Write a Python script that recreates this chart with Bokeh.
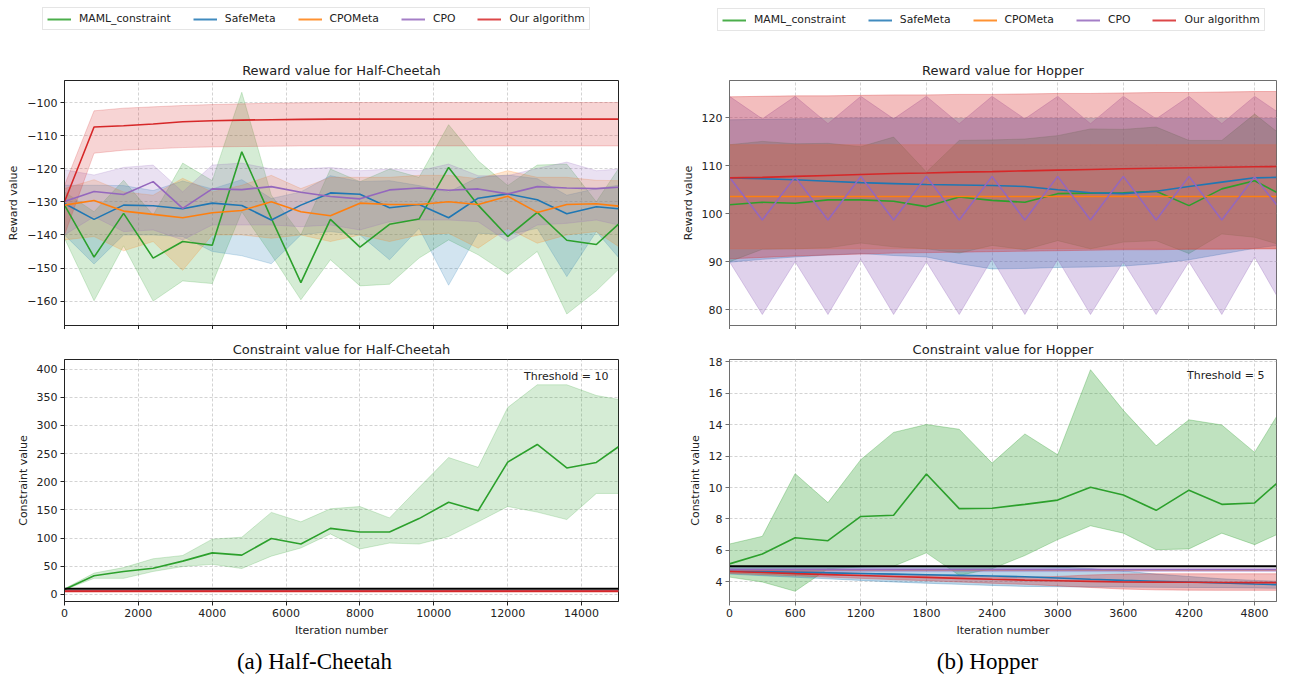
from bokeh.plotting import figure
from bokeh.models import Range1d, FixedTicker, Legend, LegendItem, Label, Title
from bokeh.layouts import column, row
from bokeh.embed import file_html
from bokeh.resources import INLINE

FONT = "DejaVu Sans"
SERIES = ["MAML_constraint", "SafeMeta", "CPOMeta", "CPO", "Our algorithm"]
COLORS = ["#2ca02c", "#1f77b4", "#ff7f0e", "#9467bd", "#d62728"]

# ---------------- Half-Cheetah ----------------
HC_X = [0, 800, 1600, 2400, 3200, 4000, 4800, 5600, 6400, 7200, 8000, 8800,
        9600, 10400, 11200, 12000, 12800, 13600, 14400, 15000]

HC_R_MAML = [-131, -146.7, -133.5, -147.0, -142.0, -143.1, -114.9, -135, -154.4, -135.3,
             -143.7, -136.8, -135.2, -119.6, -131.0, -140.5, -133.2, -141.6, -142.9, -136.7]
HC_R_MAML_HI = [-127, -133, -123.5, -134, -118.3, -123.6, -96.9, -128, -140, -120.1,
                -123.9, -120.1, -122.6, -106.7, -117.6, -125.1, -118.9, -118.6, -130, -120]
HC_R_MAML_LO = [-141, -159.9, -143.3, -160, -153.9, -154.7, -133, -146, -159.6, -147.5,
                -155.4, -154.9, -147, -141.5, -146, -151.9, -145, -163.9, -156.9, -150.4]

HC_R_SAFE = [-130.5, -135.3, -131.0, -131.2, -132.1, -130.4, -131.1, -135.5, -131.0, -127.3,
             -127.7, -131.8, -130.8, -134.8, -128.9, -127.6, -129.4, -133.6, -131.5, -132.1]
HC_R_SAFE_HI = [-125, -125, -125.1, -126.6, -123.7, -126.1, -123.3, -129, -127, -122.1,
                -123.9, -123.6, -125.1, -127, -122.6, -121.9, -123, -128, -126, -125]
HC_R_SAFE_LO = [-140, -148.8, -140, -140, -140.5, -145, -146.3, -148.7, -140, -139,
                -140, -147.5, -138, -155.2, -139.5, -140, -138, -152.6, -139, -146.8]

HC_R_CPOM = [-131.0, -129.6, -132.8, -133.8, -134.8, -133.3, -132.6, -130.0, -133.0, -134.2,
             -130.4, -130.8, -130.8, -130.0, -130.8, -128.3, -133.2, -130.8, -130.6, -131.3]
HC_R_CPOM_HI = [-126, -123.3, -127, -128, -122.9, -127, -125, -122, -126, -122.6,
                -122.6, -122.6, -122, -122, -123, -120.6, -122.6, -122.6, -123.5, -123.6]
HC_R_CPOM_LO = [-141.5, -140.5, -144.8, -142, -150.7, -140, -140, -141, -140, -142,
                -140, -142, -140, -139.5, -144, -138, -142.5, -140, -139, -143.5]

HC_R_CPO = [-129.9, -126.9, -127.8, -123.9, -132.0, -126.1, -126.3, -125.4, -127.1, -128.4,
            -129.1, -126.4, -125.8, -126.5, -126.1, -127.6, -125.4, -125.8, -126.0, -125.6]
HC_R_CPO_HI = [-120.3, -121.9, -119.6, -118.9, -127, -118.9, -118.3, -120.1, -120.1, -119.6,
               -120.6, -120.1, -120.6, -118.6, -122.1, -122.1, -119.9, -118, -120.6, -120.1]
HC_R_CPO_LO = [-140, -134.5, -139, -138.5, -141.5, -137, -137, -137, -137.5, -137,
               -138.5, -136, -135.5, -135.5, -136, -142, -137, -136.5, -135.5, -137]

HC_R_OURS = [-130, -107.4, -107.0, -106.5, -105.8, -105.5, -105.3, -105.2, -105.1, -105.0,
             -105.0, -105.0, -105.0, -105.0, -105.0, -105.0, -105.0, -105.0, -105.0, -105.0]
HC_R_OURS_HI = [-125, -102.5, -101.7, -101.3, -100.9, -100.6, -100.4, -100.2, -100.1, -100.0,
                -100.0, -100.0, -100.0, -100.0, -100.0, -100.0, -100.0, -100.0, -100.0, -100.0]
HC_R_OURS_LO = [-140, -115.3, -114.4, -114.0, -113.6, -113.4, -113.3, -113.2, -113.1, -113.1,
                -113.1, -113.1, -113.1, -113.1, -113.1, -113.1, -113.1, -113.1, -113.1, -113.1]

HC_C_MAML = [8.7, 33, 40.6, 46.4, 59, 73.6, 69.6, 99.1, 89.3, 117.1,
             110.7, 110.7, 134.5, 163.5, 148.4, 234.8, 266.1, 224.3, 234.2, 262.0]
HC_C_MAML_HI = [10, 37.7, 47.5, 63.2, 69, 98, 101.4, 145.5, 128.7, 151.9,
                155.9, 135.7, 189.6, 242.9, 225.5, 331.6, 372, 372, 353, 346]
HC_C_MAML_LO = [8, 28.4, 28.4, 40.6, 49.3, 53.3, 45.8, 67.8, 82.3, 107.2,
                80.6, 91, 89.3, 102.6, 128.7, 155.9, 146, 132.8, 179.1, 179.1]
HC_C_OTHERS = [6.0] * 20
HC_C_OURS = [5.5] * 20
HC_THRESHOLD = 10

# ---------------- Hopper ----------------
HOP_X = [0, 300, 600, 900, 1200, 1500, 1800, 2100, 2400, 2700, 3000, 3300,
         3600, 3900, 4200, 4500, 4800, 5000]

HOP_R_MAML = [101.9, 102.4, 102.2, 102.9, 102.9, 102.6, 101.5, 103.5, 102.8, 102.4,
              104.2, 104.3, 104.4, 104.7, 101.7, 105.2, 106.9, 104.5]
HOP_R_MAML_HI = [114.4, 115.1, 114.6, 114.7, 114.0, 116.0, 108.7, 115.3, 115.4, 115.6,
                 116.3, 117.7, 117.6, 118.1, 115.3, 115.3, 120.8, 117.2]
HOP_R_MAML_LO = [90.0, 92.6, 92.7, 92.9, 93.9, 93.1, 92.7, 91.8, 93.4, 92.5,
                 94.4, 92.7, 94.1, 94.4, 91.7, 95.8, 95.1, 93.75]

HOP_R_SAFE = [107.5, 107.3, 107.1, 106.8, 106.5, 106.3, 106.1, 106.0, 105.9, 105.7,
              105.0, 104.4, 104.2, 104.7, 105.7, 106.6, 107.5, 107.6]
HOP_R_SAFE_HI = [119.6, 119.7, 119.8, 119.9, 120.0, 120.0, 120.0, 119.9, 119.9, 119.9,
                 119.9, 119.9, 119.9, 119.9, 119.9, 119.9, 119.9, 119.9]
HOP_R_SAFE_LO = [89.9, 90.5, 91.0, 91.4, 91.7, 91.3, 91.0, 89.6, 88.5, 88.6,
                 88.8, 88.9, 89.1, 89.6, 90.4, 91.6, 92.8, 93.4]

HOP_R_CPOM = [103.6] * 18
HOP_R_CPOM_HI = [114.4] * 18
HOP_R_CPOM_LO = [92.7] * 18

HOP_R_CPO = [107.6, 98.7, 107.7, 98.7, 107.8, 98.7, 107.8, 98.7, 107.8, 98.7,
             107.8, 98.7, 107.8, 98.7, 107.8, 98.7, 107.7, 101.9]
HOP_R_CPO_HI = [124.5, 119.8, 124.5, 118.8, 124.5, 119.8, 124.5, 118.8, 124.5, 119.8,
                124.5, 118.8, 124.5, 119.8, 124.5, 118.8, 124.5, 121.4]
HOP_R_CPO_LO = [90.0, 79.0, 90.0, 79.0, 90.5, 79.0, 90.0, 79.0, 90.6, 79.0,
                90.5, 79.0, 90.0, 79.0, 90.0, 79.0, 91.0, 83.0]

HOP_R_OURS = [107.5, 107.6, 107.8, 108.0, 108.2, 108.4, 108.5, 108.7, 108.8, 108.95,
              109.1, 109.25, 109.4, 109.5, 109.6, 109.7, 109.8, 109.85]
HOP_R_OURS_HI = [124.4, 124.5, 124.6, 124.6, 124.7, 124.8, 124.8, 124.9, 124.9, 125.0,
                 125.1, 125.1, 125.2, 125.3, 125.3, 125.4, 125.5, 125.5]
HOP_R_OURS_LO = [90.6, 90.9, 91.2, 91.4, 91.6, 91.8, 91.9, 92.0, 92.1, 92.2,
                 92.3, 92.4, 92.5, 92.5, 92.6, 92.6, 92.7, 92.7]

HOP_C_MAML = [5.15, 5.78, 6.81, 6.62, 8.16, 8.24, 10.86, 8.66, 8.68, 8.93,
              9.2, 10.02, 9.52, 8.55, 9.83, 8.93, 9.02, 10.25]
HOP_C_MAML_HI = [6.41, 6.9, 10.88, 9.04, 11.77, 13.5, 14.0, 13.7, 11.55, 13.4,
                 12.08, 17.48, 14.9, 12.65, 14.3, 13.97, 12.23, 14.5]
HOP_C_MAML_LO = [4.31, 4.0, 3.41, 4.84, 4.95, 5.0, 5.85, 4.42, 4.84, 5.68,
                 6.69, 7.57, 7.1, 6.05, 6.1, 7.1, 6.37, 7.0]

HOP_C_SAFE = [4.70, 4.66, 4.62, 4.58, 4.54, 4.5, 4.46, 4.42, 4.38, 4.33,
              4.25, 4.17, 4.1, 4.05, 4.0, 3.94, 3.87, 3.83]
HOP_C_SAFE_HI = [4.9, 4.92, 4.93, 4.94, 4.95, 4.97, 4.98, 4.99, 5.0, 5.0,
                 4.95, 4.85, 4.7, 4.5, 4.35, 4.2, 4.1, 4.05]
HOP_C_SAFE_LO = [4.5, 4.4, 4.3, 4.2, 4.1, 4.0, 3.92, 3.85, 3.78, 3.72,
                 3.7, 3.68, 3.68, 3.66, 3.65, 3.64, 3.62, 3.6]

HOP_C_CPOM = [4.78] * 18
HOP_C_CPO = [4.78] * 18
HOP_C_CPO_HI = [4.88] * 18
HOP_C_CPO_LO = [4.66] * 18

HOP_C_OURS = [4.67, 4.6, 4.53, 4.47, 4.41, 4.35, 4.29, 4.23, 4.17, 4.12,
              4.08, 4.04, 4.0, 3.99, 3.98, 3.97, 3.96, 3.96]
HOP_C_OURS_HI = [4.8, 4.74, 4.68, 4.62, 4.56, 4.5, 4.44, 4.38, 4.33, 4.3,
                 4.35, 4.45, 4.5, 4.52, 4.52, 4.52, 4.52, 4.52]
HOP_C_OURS_LO = [4.55, 4.47, 4.39, 4.31, 4.23, 4.15, 4.08, 4.0, 3.92, 3.85,
                 3.75, 3.65, 3.55, 3.5, 3.48, 3.47, 3.47, 3.47]
HOP_THRESHOLD = 5

HC_XTICKS = [0, 2000, 4000, 6000, 8000, 10000, 12000, 14000]
HC_R_YTICKS = [-160, -150, -140, -130, -120, -110, -100]
HC_C_YTICKS = [0, 50, 100, 150, 200, 250, 300, 350, 400]
HOP_XTICKS = [0, 600, 1200, 1800, 2400, 3000, 3600, 4200, 4800]
HOP_R_YTICKS = [80, 90, 100, 110, 120]
HOP_C_YTICKS = [4, 6, 8, 10, 12, 14, 16, 18]

TXT = "#222222"


def make_fig(width, height, xr, yr, left, right, top, bottom, spine, title):
    p = figure(width=width, height=height, x_range=Range1d(*xr), y_range=Range1d(*yr),
               output_backend="svg", toolbar_location=None,
               min_border_left=left, min_border_right=right,
               min_border_top=top, min_border_bottom=bottom)
    p.title = Title(text=title, text_font=FONT, text_font_size="13px", text_font_style="normal",
                    align="center", text_color=TXT, standoff=5)
    p.outline_line_color = spine
    p.outline_line_width = 1
    p.background_fill_color = "white"
    p.border_fill_color = "white"
    for g in p.grid:
        g.grid_line_color = "#c8c8c8"
        g.grid_line_dash = "3 2"
        g.grid_line_width = 0.8
    for ax in list(p.xaxis) + list(p.yaxis):
        ax.axis_line_color = spine
        ax.major_tick_line_color = spine
        ax.major_tick_in = 0
        ax.major_tick_out = 4
        ax.minor_tick_line_color = None
        ax.major_label_text_font = FONT
        ax.major_label_text_font_size = "11px"
        ax.major_label_text_color = TXT
        ax.major_label_standoff = 3
        ax.axis_label_text_font = FONT
        ax.axis_label_text_font_size = "11px"
        ax.axis_label_text_font_style = "normal"
        ax.axis_label_text_color = TXT
        ax.axis_label_standoff = 4
    return p


def set_ticks(p, xticks, yticks, ylabel, xlabel=None):
    p.xaxis.ticker = FixedTicker(ticks=xticks)
    p.yaxis.ticker = FixedTicker(ticks=yticks)
    p.xgrid.ticker = FixedTicker(ticks=xticks)
    p.ygrid.ticker = FixedTicker(ticks=yticks)
    p.yaxis.axis_label = ylabel
    p.yaxis.major_label_overrides = {t: ("\u2212" + str(abs(t)) if t < 0 else str(t)) for t in yticks}
    if xlabel is None:
        p.xaxis.major_label_text_font_size = "0px"
        p.xaxis.major_label_text_color = None
        p.xaxis.major_label_standoff = 0
    else:
        p.xaxis.axis_label = xlabel


def band(p, x, lo, hi, color, alpha):
    p.varea(x=x, y1=lo, y2=hi, fill_color=color, fill_alpha=alpha)
    p.line(x=x, y=hi, line_color=color, line_alpha=alpha, line_width=1)
    p.line(x=x, y=lo, line_color=color, line_alpha=alpha, line_width=1)


def threshold_label(p, text, xr, yr, fw, fh, dx, dy):
    x = xr[1] - (xr[1] - xr[0]) * dx / fw
    y = yr[1] - (yr[1] - yr[0]) * dy / fh
    p.add_layout(Label(x=x, y=y, text=text, text_align="right", text_baseline="middle",
                       text_font=FONT, text_font_size="11px", text_color=TXT))


LW = 1.6

# ---------------- layout geometry (pixels) ----------------
LEFT_W, RIGHT_W = 660, 617
L_BL, L_FW, L_BR = 64, 554, 42
R_BL, R_FW, R_BR = 69, 547, 1
R_H = 281      # reward row height
C_H = 311      # constraint row height

HC_XR = (0, 15000)
HC_R_YR = (-167.37, -93.34)
HC_C_YR = (-12.7, 416.9)
HOP_XR = (0, 5000)
HOP_R_YR = (76.7, 127.8)
HOP_C_YR = (2.76, 18.13)

# Half-Cheetah reward : frame 77..325
hc_r = make_fig(LEFT_W, R_H, HC_XR, HC_R_YR, L_BL, L_BR, 29, 4, "#222222",
                "Reward value for Half-Cheetah")
set_ticks(hc_r, HC_XTICKS, HC_R_YTICKS, "Reward value")
hc_means = [HC_R_MAML, HC_R_SAFE, HC_R_CPOM, HC_R_CPO, HC_R_OURS]
hc_his = [HC_R_MAML_HI, HC_R_SAFE_HI, HC_R_CPOM_HI, HC_R_CPO_HI, HC_R_OURS_HI]
hc_los = [HC_R_MAML_LO, HC_R_SAFE_LO, HC_R_CPOM_LO, HC_R_CPO_LO, HC_R_OURS_LO]
for lo, hi, c in zip(hc_los, hc_his, COLORS):
    band(hc_r, HC_X, lo, hi, c, 0.2)
for m, c in zip(hc_means, COLORS):
    hc_r.line(x=HC_X, y=m, line_color=c, line_width=LW)

# Half-Cheetah constraint : frame 356..601
hc_c = make_fig(LEFT_W, C_H, HC_XR, HC_C_YR, L_BL, L_BR, 27, 39, "#222222",
                "Constraint value for Half-Cheetah")
set_ticks(hc_c, HC_XTICKS, HC_C_YTICKS, "Constraint value", "Iteration number")
band(hc_c, HC_X, HC_C_MAML_LO, HC_C_MAML_HI, COLORS[0], 0.2)
hc_c.line(x=HC_X, y=HC_C_MAML, line_color=COLORS[0], line_width=LW)
for c in COLORS[1:4]:
    hc_c.line(x=HC_X, y=HC_C_OTHERS, line_color=c, line_width=LW)
hc_c.line(x=HC_X, y=HC_C_OURS, line_color=COLORS[4], line_width=2)
hc_c.line(x=[HC_XR[0], HC_XR[1]], y=[HC_THRESHOLD, HC_THRESHOLD], line_color="black", line_width=2)
threshold_label(hc_c, "Threshold = 10", HC_XR, HC_C_YR, L_FW, 245, 10, 17)

# Hopper reward : frame 80..325
hop_r = make_fig(RIGHT_W, R_H, HOP_XR, HOP_R_YR, R_BL, R_BR, 32, 4, "#6e6e6e",
                 "Reward value for Hopper")
set_ticks(hop_r, HOP_XTICKS, HOP_R_YTICKS, "Reward value")
hop_means = [HOP_R_MAML, HOP_R_SAFE, HOP_R_CPOM, HOP_R_CPO, HOP_R_OURS]
hop_his = [HOP_R_MAML_HI, HOP_R_SAFE_HI, HOP_R_CPOM_HI, HOP_R_CPO_HI, HOP_R_OURS_HI]
hop_los = [HOP_R_MAML_LO, HOP_R_SAFE_LO, HOP_R_CPOM_LO, HOP_R_CPO_LO, HOP_R_OURS_LO]
for lo, hi, c in zip(hop_los, hop_his, COLORS):
    band(hop_r, HOP_X, lo, hi, c, 0.3)
for m, c in zip(hop_means, COLORS):
    hop_r.line(x=HOP_X, y=m, line_color=c, line_width=LW)

# Hopper constraint : frame 359..601
hop_c = make_fig(RIGHT_W, C_H, HOP_XR, HOP_C_YR, R_BL, R_BR, 30, 39, "#6e6e6e",
                 "Constraint value for Hopper")
set_ticks(hop_c, HOP_XTICKS, HOP_C_YTICKS, "Constraint value", "Iteration number")
band(hop_c, HOP_X, HOP_C_MAML_LO, HOP_C_MAML_HI, COLORS[0], 0.3)
band(hop_c, HOP_X, HOP_C_SAFE_LO, HOP_C_SAFE_HI, COLORS[1], 0.3)
band(hop_c, HOP_X, HOP_C_CPO_LO, HOP_C_CPO_HI, COLORS[3], 0.3)
band(hop_c, HOP_X, HOP_C_OURS_LO, HOP_C_OURS_HI, COLORS[4], 0.3)
hop_c.line(x=HOP_X, y=HOP_C_MAML, line_color=COLORS[0], line_width=LW)
hop_c.line(x=HOP_X, y=HOP_C_SAFE, line_color=COLORS[1], line_width=LW)
hop_c.line(x=HOP_X, y=HOP_C_CPOM, line_color=COLORS[2], line_width=LW)
hop_c.line(x=HOP_X, y=HOP_C_CPO, line_color=COLORS[3], line_width=LW)
hop_c.line(x=HOP_X, y=HOP_C_OURS, line_color=COLORS[4], line_width=LW)
hop_c.line(x=[HOP_XR[0], HOP_XR[1]], y=[HOP_THRESHOLD, HOP_THRESHOLD], line_color="black", line_width=2)
threshold_label(hop_c, "Threshold = 5", HOP_XR, HOP_C_YR, R_FW, 242, 12, 16)

# Legend strip (0..48)
leg_fig = figure(width=LEFT_W + RIGHT_W, height=48, x_range=Range1d(0, 1), y_range=Range1d(0, 1),
                 output_backend="svg", toolbar_location=None, x_axis_type=None, y_axis_type=None,
                 min_border=0)
leg_fig.outline_line_color = None
leg_fig.grid.visible = False
rends = [leg_fig.line(x=[-5, -4], y=[-5, -5], line_color=c, line_width=2, line_alpha=0.85)
         for c in COLORS]
for loc in [(42, 18), (717, 17)]:
    leg = Legend(items=[LegendItem(label=s, renderers=[r]) for s, r in zip(SERIES, rends)],
                 orientation="horizontal", location=loc, label_text_font=FONT,
                 label_text_font_size="10.8px", label_text_color=TXT, glyph_width=24, glyph_height=12,
                 label_height=12, label_standoff=8, spacing=22, padding=4, margin=0,
                 border_line_color="#cccccc", border_line_width=1, background_fill_color="white")
    leg_fig.add_layout(leg)

# Caption strip (640..674)
cap_fig = figure(width=LEFT_W + RIGHT_W, height=34, x_range=Range1d(0, LEFT_W + RIGHT_W),
                 y_range=Range1d(0, 34), output_backend="svg", toolbar_location=None,
                 x_axis_type=None, y_axis_type=None, min_border=0)
cap_fig.outline_line_color = None
cap_fig.grid.visible = False
for txt, cx in [("(a) Half-Cheetah", 314), ("(b) Hopper", 987)]:
    cap_fig.add_layout(Label(x=cx, y=13, text=txt, text_align="center", text_baseline="middle",
                             text_font="Liberation Serif", text_font_size="23px", text_color="black"))

layout = column(leg_fig, row(hc_r, hop_r), row(hc_c, hop_c), cap_fig)

open("out.html", "w").write(file_html(layout, INLINE))
